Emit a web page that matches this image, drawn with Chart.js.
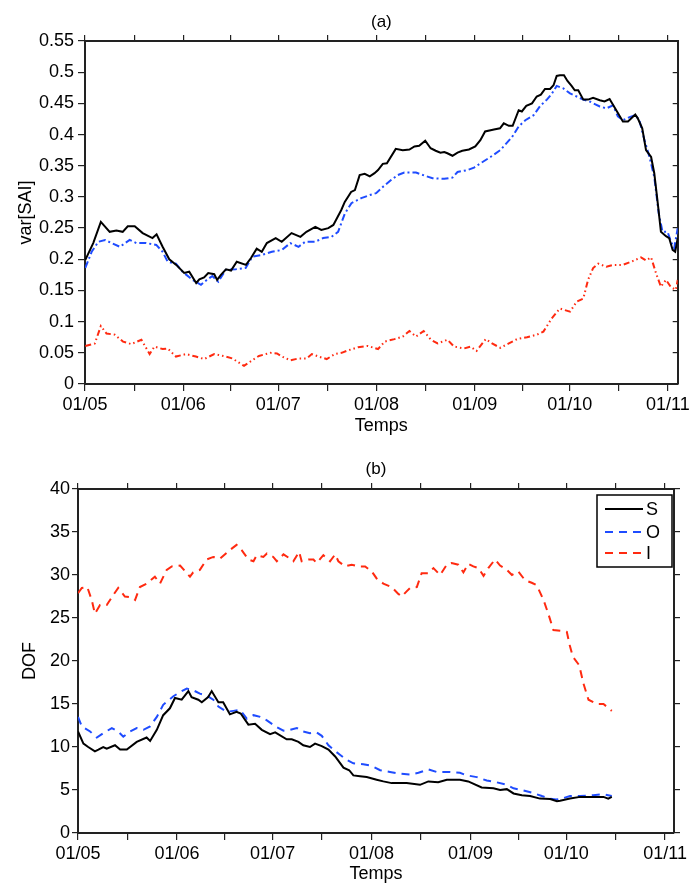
<!DOCTYPE html>
<html>
<head>
<script src="https://cdn.jsdelivr.net/npm/chart.js@4.4.1/dist/chart.umd.min.js"></script>
<style>
  body { margin: 0; background: #fff; }
  .panel { position: absolute; left: 0; width: 693px; }
</style>
</head>
<body>
<div class="panel" style="top:0;height:440px"><canvas id="ca"></canvas></div>
<div class="panel" style="top:440px;height:443px"><canvas id="cb"></canvas></div>
<script>
// x is days since 01/05
const xTickDays = [0, 15.5, 31, 46, 61, 76.5, 92, 107.5, 123, 138, 153, 168.5, 184];
const monthDays = [0, 31, 61, 92, 123, 153, 184];
const monthLabels = ['01/05', '01/06', '01/07', '01/08', '01/09', '01/10', '01/11'];

// panel (a): var[SAI]
const sA = [[0.1,0.199],[2.6,0.226],[5.0,0.26],[7.8,0.244],[9.9,0.246],[11.9,0.244],[13.5,0.253],[15.7,0.253],[18.2,0.242],[21.3,0.234],
  [22.6,0.240],[24.5,0.22],[26.6,0.200],[28.8,0.191],[31.3,0.178],[32.9,0.180],[35.1,0.162],[36.1,0.168],[37.6,0.171],[38.9,0.178],
  [40.8,0.176],[41.7,0.167],[42.9,0.175],[44.5,0.184],[46.1,0.182],[47.9,0.196],[50.8,0.191],[52.4,0.202],[54.2,0.217],[55.8,0.212],
  [57.4,0.226],[60.2,0.234],[62.1,0.228],[65.2,0.242],[68.0,0.236],[69.9,0.244],[72.7,0.252],[74.6,0.247],[76.8,0.25],[78.4,0.255],
  [80.9,0.279],[82.0,0.292],[84.0,0.308],[85.2,0.311],[86.7,0.335],[88.3,0.337],[89.9,0.333],[91.4,0.338],[92.5,0.343],[94.0,0.353],
  [95.3,0.354],[98.1,0.377],[100.3,0.375],[102.4,0.376],[104.0,0.381],[105.5,0.382],[107.4,0.390],[109.1,0.378],[110.7,0.374],[112.2,0.371],
  [113.4,0.372],[114.4,0.370],[116.0,0.366],[117.6,0.371],[119.1,0.374],[121.2,0.376],[123.2,0.381],[124.8,0.391],[126.3,0.405],[129.1,0.408],
  [131.0,0.41],[132.2,0.418],[133.8,0.414],[135.0,0.414],[136.9,0.439],[137.9,0.437],[139.3,0.446],[141.1,0.45],[142.6,0.461],[143.9,0.464],
  [145.2,0.473],[146.8,0.473],[147.9,0.479],[148.9,0.494],[149.9,0.495],[151.2,0.495],[152.3,0.486],[153.6,0.478],[154.6,0.471],[155.7,0.471],
  [157.3,0.456],[158.8,0.456],[160.4,0.459],[162.5,0.455],[164.0,0.453],[165.6,0.457],[167.7,0.439],[169.8,0.421],[171.4,0.421],[173.7,0.432],
  [174.5,0.426],[175.9,0.41],[177.1,0.375],[178.7,0.364],[179.7,0.338],[180.8,0.29],[181.8,0.244],[183.4,0.237],[184.4,0.234],[185.5,0.215],
  [186.3,0.212],[187.1,0.234]];
const oA = [[0.1,0.186],[2.1,0.212],[4.2,0.228],[6.3,0.231],[8.4,0.226],[11.0,0.220],[14.1,0.231],[16.2,0.226],[19.3,0.226],[22.5,0.223],
  [24.5,0.212],[26.1,0.196],[28.7,0.193],[30.8,0.180],[33.9,0.167],[36.6,0.159],[38.7,0.168],[40.2,0.173],[42.1,0.164],[44.4,0.183],
  [47.6,0.184],[50.7,0.186],[52.8,0.204],[55.9,0.207],[59.0,0.212],[62.2,0.215],[64.8,0.226],[67.4,0.220],[69.5,0.228],[72.6,0.228],
  [75.2,0.234],[77.8,0.236],[79.9,0.244],[82.0,0.273],[84.1,0.29],[87.2,0.298],[89.9,0.303],[91.9,0.306],[94.0,0.316],[96.6,0.327],
  [98.7,0.335],[100.8,0.339],[104.5,0.339],[107.3,0.334],[109.7,0.330],[113.4,0.329],[116.0,0.331],[117.6,0.340],[120.7,0.343],[122.8,0.347],
  [124.9,0.354],[128.0,0.364],[131.1,0.375],[134.8,0.396],[136.9,0.413],[139.0,0.423],[141.6,0.431],[143.7,0.446],[145.8,0.456],[147.3,0.465],
  [148.9,0.478],[151.0,0.474],[153.1,0.466],[155.2,0.461],[157.3,0.456],[159.3,0.453],[162.5,0.445],[164.6,0.442],[166.7,0.447],[168.2,0.429],
  [169.8,0.423],[171.9,0.428],[173.7,0.431],[175.0,0.423],[176.6,0.391],[178.2,0.364],[179.7,0.332],[181.1,0.274],[182.3,0.244],[183.9,0.244],
  [185.0,0.228],[186.0,0.218],[187.1,0.25]];
const iA = [[0.1,0.061],[3.1,0.065],[5.0,0.093],[6.8,0.081],[9.4,0.079],[12.0,0.068],[14.6,0.064],[17.8,0.071],[20.4,0.048],[21.9,0.060],
  [24.5,0.056],[26.1,0.057],[28.7,0.044],[31.9,0.048],[35.0,0.044],[37.6,0.040],[40.8,0.048],[44.4,0.044],[46.5,0.041],[50.2,0.029],
  [52.8,0.038],[54.9,0.045],[58.5,0.050],[60.6,0.049],[62.2,0.044],[64.8,0.038],[67.4,0.041],[70.0,0.041],[71.6,0.048],[73.7,0.044],
  [76.3,0.040],[78.9,0.048],[81.0,0.050],[83.1,0.054],[86.2,0.059],[89.3,0.061],[92.5,0.056],[94.6,0.068],[97.7,0.072],[100.3,0.076],
  [102.4,0.085],[104.5,0.076],[106.9,0.085],[109.2,0.071],[111.3,0.065],[114.4,0.071],[116.5,0.060],[119.7,0.057],[121.7,0.060],[123.6,0.053],
  [126.5,0.072],[128.5,0.065],[131.1,0.058],[133.8,0.065],[136.4,0.072],[139.5,0.075],[142.6,0.079],[144.7,0.084],[147.3,0.105],[149.9,0.121],
  [153.1,0.116],[155.2,0.132],[157.3,0.137],[158.8,0.167],[160.4,0.186],[162.0,0.193],[164.6,0.188],[166.7,0.191],[169.8,0.191],[172.4,0.196],
  [175.5,0.203],[177.1,0.198],[178.7,0.203],[180.3,0.177],[181.8,0.156],[183.4,0.167],[185.0,0.155],[186.5,0.151],[187.1,0.167]];

// panel (b): DOF
const sB = [[0,11.8],[1.7,10.4],[3.2,10.0],[5.3,9.5],[6.4,9.7],[7.9,10.0],[9.0,9.8],[11.6,10.2],[13.2,9.7],[15.3,9.7],
  [18.4,10.6],[21.5,11.1],[22.6,10.7],[24.7,12.0],[26.7,13.7],[28.8,14.5],[30.4,15.7],[32.5,15.5],[34.6,16.5],[35.6,15.8],
  [37.7,15.5],[38.8,15.2],[40.8,15.8],[41.9,16.5],[44.0,15.2],[45.5,15.2],[47.6,13.8],[49.7,14.1],[51.0,13.9],[53.4,12.6],
  [55.5,12.7],[57.6,12.0],[60.2,11.5],[61.8,11.7],[65.4,10.9],[67.0,10.9],[69.1,10.6],[70.6,10.2],[72.7,10.0],[74.3,10.4],
  [76.4,10.1],[78.5,9.7],[80.6,8.9],[83.2,7.6],[85.0,7.3],[86.3,6.7],[88.4,6.6],[90.5,6.5],[93.6,6.2],[95.7,6.0],
  [98.3,5.8],[103.0,5.8],[107.2,5.6],[109.8,6.0],[112.9,5.9],[115.6,6.2],[119.7,6.2],[122.3,6.0],[126.5,5.3],[130.2,5.2],
  [132.3,5.0],[134.4,5.1],[136.5,4.6],[139.1,4.4],[141.7,4.3],[144.8,4.0],[148.0,3.95],[150.1,3.7],[151.1,3.75],[154.2,4.0],
  [157.4,4.2],[161.5,4.2],[164.7,4.2],[166.2,4.0],[167.3,4.2]];
const oB = [[0,13.5],[1.2,12.4],[3.8,11.8],[5.9,11.1],[7.9,11.6],[10.6,12.2],[12.6,11.8],[14.2,11.2],[16.3,11.8],[18.4,12.2],
  [20.5,12.0],[22.6,12.4],[24.7,13.5],[26.7,14.9],[29.9,15.9],[32.0,16.4],[34.1,16.8],[36.1,16.6],[38.2,16.2],[40.3,16.0],
  [42.4,15.5],[44.0,14.7],[46.6,14.1],[48.7,14.2],[50.8,14.3],[52.9,13.3],[55.0,13.7],[57.1,13.5],[59.2,13.1],[62.3,12.3],
  [64.4,11.9],[66.5,12.0],[68.6,12.2],[70.6,11.8],[72.7,11.6],[74.8,11.7],[76.4,11.3],[78.5,10.2],[80.0,9.7],[82.1,9.1],
  [84.2,8.5],[86.3,8.1],[89.4,8.0],[92.1,7.8],[94.7,7.3],[97.8,7.1],[100.9,6.9],[104.1,6.8],[106.7,7.0],[109.8,7.4],
  [112.4,7.1],[116.1,7.1],[119.7,7.0],[121.9,6.7],[125.0,6.5],[128.1,6.1],[131.2,5.9],[134.4,5.6],[136.5,5.2],[139.1,5.0],
  [142.2,4.7],[145.4,4.3],[148.0,4.0],[149.8,3.9],[151.6,4.0],[154.2,4.3],[157.4,4.3],[161.5,4.4],[164.7,4.5],[167.3,4.3]];
const iB = [[0,27.9],[1.2,28.5],[2.9,28.6],[4.3,27.1],[5.3,25.5],[6.9,26.5],[9.0,26.5],[11.1,27.7],[12.6,28.5],[14.7,27.5],
  [16.8,27.4],[17.9,27.1],[19.4,28.6],[21.5,29.0],[24.1,29.8],[25.7,29.0],[27.8,30.6],[29.4,31.0],[32.0,31.1],[35.1,29.8],
  [36.1,30.3],[38.2,30.6],[40.3,31.8],[42.4,32.1],[44.5,31.9],[47.6,32.9],[49.7,33.5],[51.3,32.9],[53.4,31.8],[55.0,31.6],
  [56.0,32.3],[58.1,32.1],[59.2,32.5],[61.2,32.1],[62.3,31.6],[64.4,32.4],[66.5,31.9],[67.5,31.6],[69.3,32.7],[70.1,31.6],
  [72.2,31.8],[73.8,31.8],[74.8,31.4],[76.9,32.3],[79.0,31.6],[80.6,32.4],[81.6,31.6],[83.7,31.0],[85.8,31.2],[87.9,31.0],
  [90.0,31.0],[92.1,30.4],[93.6,29.6],[95.7,29.0],[98.3,28.6],[100.4,27.8],[101.5,27.5],[103.0,28.1],[104.1,28.5],[106.2,28.6],
  [107.7,30.2],[109.8,30.2],[111.4,30.8],[113.5,30.0],[115.6,31.2],[117.1,31.4],[119.2,31.2],[120.8,30.3],[122.3,31.3],[123.9,31.0],
  [125.5,30.8],[127.1,29.9],[128.6,30.8],[130.7,31.8],[132.3,31.1],[134.4,30.6],[136.0,30.0],[138.0,30.4],[140.1,29.4],[142.2,29.1],
  [143.8,28.8],[145.9,27.1],[147.4,25.5],[149.0,23.6],[151.6,23.5],[153.2,23.4],[154.2,21.7],[155.1,20.5],[157.1,19.5],[158.4,17.4],
  [160.0,15.5],[162.6,15.0],[164.7,15.0],[167.3,14.2]];

const BLACK = '#000000';
const BLUE = '#1f4cff';
const RED = '#ff2a10';
const FONT = "'Liberation Sans', Arial, Helvetica, sans-serif";
const AXIS = '#222';

Chart.defaults.font.family = FONT;
Chart.defaults.font.size = 18;
Chart.defaults.color = '#000';

function pts(arr) { return arr.map(p => ({ x: p[0], y: p[1] })); }
function xLabel(v) { const i = monthDays.indexOf(v); return i < 0 ? '' : monthLabels[i]; }
function setXTicks(scale) { scale.ticks = xTickDays.map(v => ({ value: v })); }

function line(label, data, color, dash) {
  return { label, data: pts(data), borderColor: color, backgroundColor: color, borderWidth: 2,
    borderDash: dash, pointRadius: 0, tension: 0, fill: false };
}

function makeChart(id, g) {
  const grid = { drawOnChartArea: false, drawTicks: true, tickLength: 7, color: AXIS, lineWidth: 1.2 };
  const border = { display: true, color: AXIS, width: 2 };
  return new Chart(document.getElementById(id), {
    type: 'line',
    data: { datasets: g.datasets },
    options: {
      responsive: true,
      maintainAspectRatio: false,
      animation: false,
      layout: { padding: 0 },
      plugins: { legend: { display: false }, tooltip: { enabled: false }, legendBox: g.legend || { show: false } },
      scales: {
        x: {
          type: 'linear', position: 'bottom', min: 0, max: g.xMax,
          afterBuildTicks: setXTicks,
          afterFit: s => { s.height = g.bottom; },
          ticks: { autoSkip: false, maxRotation: 0, padding: g.xPad, callback: v => xLabel(v) },
          grid, border,
          title: { display: true, text: 'Temps', font: { size: 18, lineHeight: 1 }, padding: { top: 0, bottom: g.tPad } }
        },
        x2: {
          type: 'linear', position: 'top', min: 0, max: g.xMax,
          afterBuildTicks: setXTicks,
          afterFit: s => { s.height = g.top; },
          ticks: { display: false },
          grid: { ...grid, tickLength: 6 }, border,
          title: { display: true, text: g.title, font: { size: 17, lineHeight: 1.2 }, padding: { top: g.titlePad, bottom: 0 } }
        },
        y: {
          type: 'linear', position: 'left', min: 0, max: g.yMax,
          afterFit: s => { s.width = g.left; },
          ticks: { stepSize: g.yStep, padding: g.yPad, callback: v => String(Math.round(v * 100) / 100) },
          grid: { ...grid, tickLength: g.yTick }, border,
          title: { display: true, text: g.yTitle, font: { size: 18, lineHeight: 1.2 }, padding: { top: g.yTitlePad, bottom: 0 } }
        },
        y2: {
          type: 'linear', position: 'right', min: 0, max: g.yMax,
          afterFit: s => { s.width = g.right; },
          ticks: { display: false, stepSize: g.yStep },
          grid: { ...grid, tickLength: g.rightTick }, border
        }
      }
    },
    plugins: [legendBox]
  });
}

// framed legend in the top-right corner of the plot, line sample then label
const legendBox = {
  id: 'legendBox',
  afterDraw(chart, args, opts) {
    if (!opts.show) return;
    const ctx = chart.ctx;
    const area = chart.chartArea;
    const w = 75, h = 72;
    const x0 = area.right - 2 - w, y0 = area.top + 6;
    ctx.save();
    ctx.fillStyle = '#fff';
    ctx.fillRect(x0, y0, w, h);
    ctx.strokeStyle = '#000';
    ctx.lineWidth = 1.5;
    ctx.strokeRect(x0, y0, w, h);
    const rows = [14, 37, 58];
    ctx.font = '18px ' + FONT;
    ctx.textBaseline = 'middle';
    ctx.textAlign = 'left';
    chart.data.datasets.forEach((ds, i) => {
      const y = y0 + rows[i];
      ctx.beginPath();
      ctx.setLineDash(ds.borderDash || []);
      ctx.strokeStyle = ds.borderColor;
      ctx.lineWidth = 2;
      ctx.moveTo(x0 + 8, y);
      ctx.lineTo(x0 + 46, y);
      ctx.stroke();
      ctx.setLineDash([]);
      ctx.fillStyle = '#000';
      ctx.fillText(ds.label, x0 + 49, y + 1);
    });
    ctx.restore();
  }
};

makeChart('ca', {
  datasets: [
    line('S', sA, BLACK, []),
    line('O', oA, BLUE, [7, 3, 2, 3]),
    line('I', iA, RED, [6, 3, 1.5, 3, 1.5, 3])
  ],
  xMax: 187.1, yMax: 0.55, yStep: 0.05, yTitle: 'var[SAI]', title: '(a)',
  left: 85, right: 11, top: 41, bottom: 56,
  xPad: 3, tPad: 5, yPad: 4, yTick: 7, rightTick: -5, titlePad: 12, yTitlePad: 15
});

makeChart('cb', {
  datasets: [
    line('S', sB, BLACK, []),
    line('O', oB, BLUE, [8, 6]),
    line('I', iB, RED, [8, 6])
  ],
  xMax: 186.8, yMax: 40, yStep: 5, yTitle: 'DOF', title: '(b)',
  left: 78, right: 19, top: 49, bottom: 50,
  xPad: 3, tPad: 0, yPad: 2, yTick: 6, rightTick: 6, titlePad: 19, yTitlePad: 19,
  legend: { show: true }
});
</script>
</body>
</html>
